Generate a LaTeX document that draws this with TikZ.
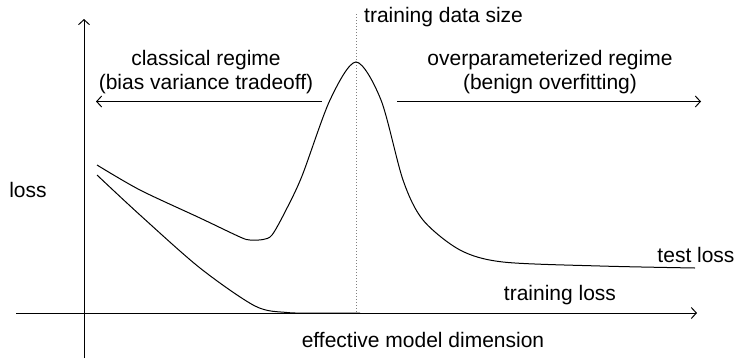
\documentclass[tikz,border=0pt]{standalone}
\usepackage{fontspec}
\setmainfont{Liberation Sans}
\usetikzlibrary{arrows.meta}
\begin{document}
\begin{tikzpicture}[x=1pt,y=-1pt,
  every node/.style={font=\fontsize{21}{24.5}\selectfont, inner sep=0pt},
  ax/.style={line width=1pt, -{Straight Barb[length=5pt,width=11pt]}},
  curve/.style={line width=1pt},
  lbl/.style={align=center}]
\useasboundingbox (0,0) rectangle (737,360);
% axes
\coordinate (yb) at (84,358);
\coordinate (yt) at (84,19);
\coordinate (xl) at (16,313);
\coordinate (xr) at (697,313);
\draw[ax] (yb) -- (yt);
\draw[ax] (xl) -- (xr);
% dotted line
\coordinate (dt) at (356,14);
\coordinate (db) at (356,313);
\draw[dotted, line width=1pt, gray] (dt) -- (db);
% regime arrows
\coordinate (la) at (322,101.5);
\coordinate (lb) at (96,101.5);
\coordinate (ra) at (397,101.5);
\coordinate (rb) at (701,101.5);
\draw[ax] (la) -- (lb);
\draw[ax] (ra) -- (rb);
% labels
\node[anchor=base west] (tds) at (364,22) {training data size};
\node[lbl] (cr) at (206,72) {classical regime\\(bias variance tradeoff)};
\node[lbl] (or) at (550,72) {overparameterized regime\\(benign overfitting)};
\node (loss) at (28,190) {loss};
\node (tl) at (696,255) {test loss};
\node (trl) at (560,295) {training loss};
\node (emd) at (423,340) {effective model dimension};
% curves
\draw[curve] plot[smooth, tension=0.5] coordinates {(97,165) (140,190) (200,218) (240,237) (250,240) (263,239.5) (272,235) (285,212) (302,176) (330,100) (356,62) (381,100) (403,180) (423,220) (460,250) (503,262) (600,266) (695,268)};
\draw[curve] plot[smooth, tension=0.5] coordinates {(97,175) (140,215) (200,268) (255,306) (287,312.5) (320,313) (360,313)};
\end{tikzpicture}
\end{document}
